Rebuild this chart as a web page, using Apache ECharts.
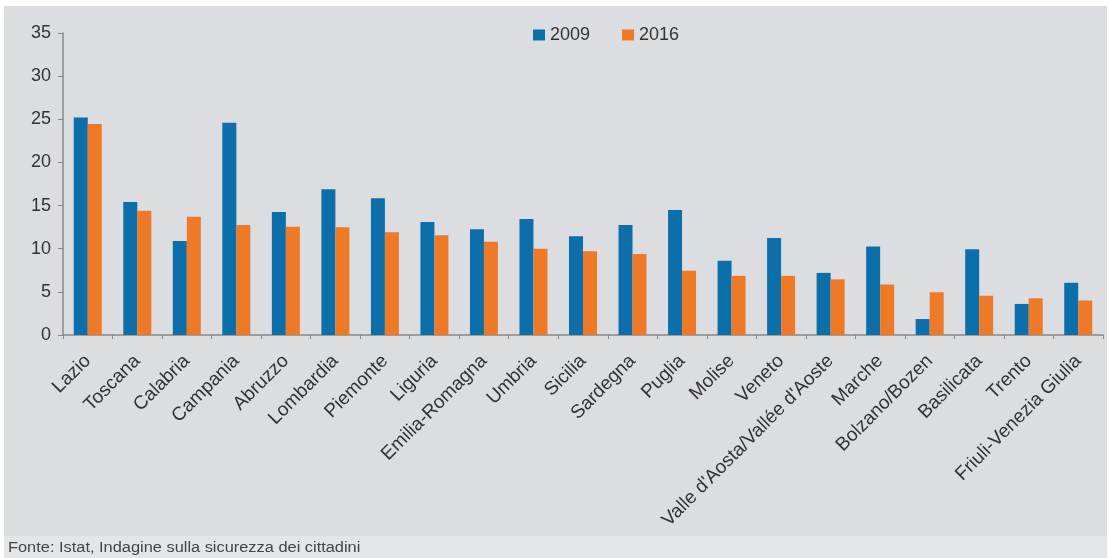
<!DOCTYPE html>
<html>
<head>
<meta charset="utf-8">
<script src="https://cdn.jsdelivr.net/npm/echarts@6/dist/echarts.min.js"></script>
<style>
	html, body { margin: 0; padding: 0; background: #fff; }
	#chart { width: 1109px; height: 558px; }
</style>
</head>
<body>
<div id="chart"></div>
<script>
// dati
var regioni = ['Lazio', 'Toscana', 'Calabria', 'Campania', 'Abruzzo', 'Lombardia', 'Piemonte', 'Liguria',
	'Emilia-Romagna', 'Umbria', 'Sicilia', 'Sardegna', 'Puglia', 'Molise', 'Veneto',
	"Valle d'Aosta/Vallée d'Aoste", 'Marche', 'Bolzano/Bozen', 'Basilicata', 'Trento', 'Friuli-Venezia Giulia'];
var anno2009 = [25.2, 15.4, 10.9, 24.6, 14.25, 16.9, 15.85, 13.1, 12.25, 13.45, 11.45, 12.75, 14.5, 8.6, 11.25, 7.2, 10.25, 1.85, 9.95, 3.6, 6.05];
var anno2016 = [24.45, 14.4, 13.7, 12.75, 12.55, 12.5, 11.9, 11.55, 10.8, 10.0, 9.7, 9.4, 7.45, 6.85, 6.85, 6.45, 5.85, 4.95, 4.55, 4.25, 4.0];
var fonte = 'Fonte: Istat, Indagine sulla sicurezza dei cittadini';

var font = 'Liberation Sans';
var myChart = echarts.init(document.getElementById('chart'));
myChart.setOption({
	backgroundColor: '#ffffff',
	graphic: [{
		type: 'rect', z: -10, silent: true,
		shape: { x: 4, y: 6, width: 1103, height: 530 },
		style: { fill: '#dcdde0' }
	}, {
		type: 'rect', z: -10, silent: true,
		shape: { x: 4, y: 536, width: 1103, height: 22 },
		style: { fill: '#e4e5e7' }
	}, {
		type: 'text', x: 8, y: 541, scaleX: 1.17,
		style: { text: fonte, fontSize: 14, fill: '#444', fontFamily: font }
	}],
	legend: {
		data: ['2009', '2016'],
		left: 528, top: 21,
		itemWidth: 12, itemHeight: 11, itemGap: 32,
		icon: 'rect',
		textStyle: { fontSize: 18, color: '#333', fontFamily: font }
	},
	grid: { left: 63, right: 6, top: 33, bottom: 223 },
	xAxis: {
		type: 'category',
		data: regioni,
		axisLine: { lineStyle: { color: '#888', width: 1.5 } },
		axisTick: { show: true, length: 4, lineStyle: { color: '#888' } },
		axisLabel: { rotate: 45, interval: 0, fontSize: 19, color: '#333', margin: 23, fontFamily: font }
	},
	yAxis: {
		type: 'value',
		min: 0, max: 35, interval: 5,
		axisLine: { show: true, lineStyle: { color: '#888', width: 1.5 } },
		axisTick: { show: true, length: 5, lineStyle: { color: '#888' } },
		axisLabel: { fontSize: 18, color: '#333', margin: 12, fontFamily: font },
		splitLine: { show: false }
	},
	series: [{
		name: '2009',
		type: 'bar',
		data: anno2009,
		barWidth: 14,
		barGap: '0%',
		itemStyle: { color: '#0d6faa' }
	}, {
		name: '2016',
		type: 'bar',
		data: anno2016,
		barWidth: 14,
		itemStyle: { color: '#ee7a28' }
	}]
});
</script>
</body>
</html>
